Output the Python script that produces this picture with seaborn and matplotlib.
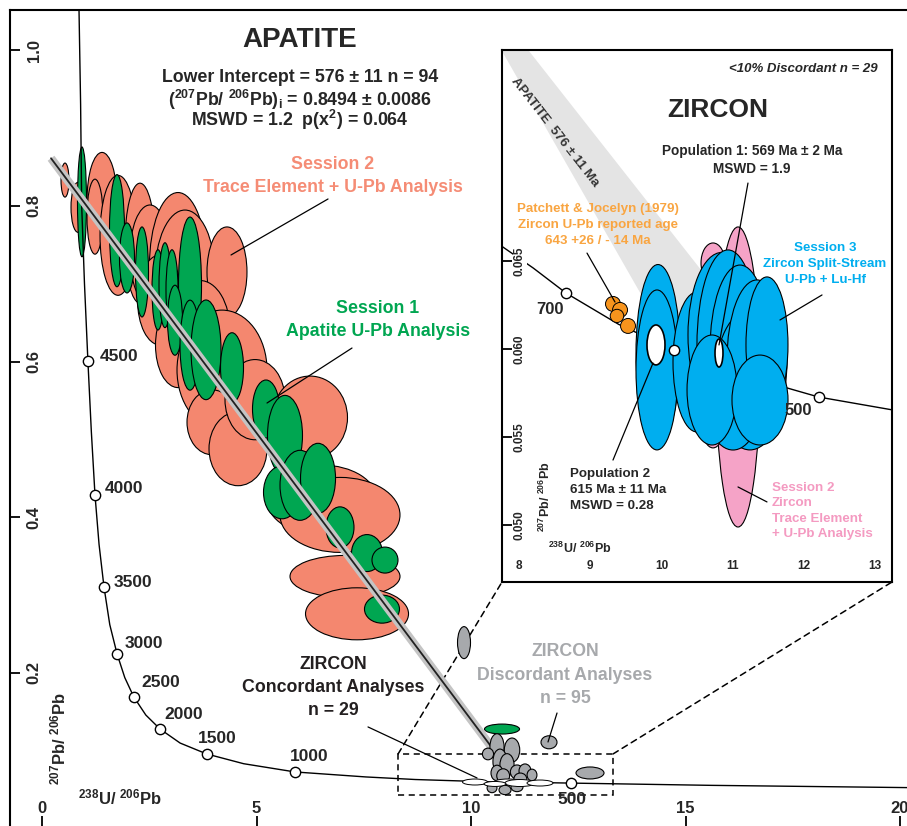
import numpy as np
import pandas as pd
import matplotlib.pyplot as plt
import seaborn as sns
import matplotlib.transforms as mtransforms
from matplotlib.patches import Ellipse, Rectangle, Polygon, ConnectionPatch

sns.set_theme(style="white")
plt.rcParams['font.family'] = ['Liberation Sans', 'DejaVu Sans']
plt.rcParams['font.weight'] = 'bold'
plt.rcParams['mathtext.fontset'] = 'custom'
plt.rcParams['mathtext.rm'] = 'Liberation Sans:bold'
plt.rcParams['mathtext.bf'] = 'Liberation Sans:bold'
plt.rcParams['mathtext.it'] = 'Liberation Sans:bold:italic'
plt.rcParams['mathtext.default'] = 'bf'

# ---- main panel data (238U/206Pb vs 207Pb/206Pb) ----
conc_x = [0.86, 0.90, 0.925, 0.99, 1.07, 1.15, 1.235, 1.33, 1.445, 1.58, 1.75, 1.93, 2.14,
          2.42, 2.75, 3.22, 3.84, 4.70, 5.90, 7.55, 8.70, 10.25, 12.33, 15.6, 20.5]
conc_y = [1.06, 0.93, 0.80, 0.70, 0.6006, 0.51, 0.4287, 0.365, 0.3104, 0.262, 0.2244, 0.194, 0.1692,
          0.146, 0.1281, 0.110, 0.0960, 0.0835, 0.0729, 0.0665, 0.0632, 0.0605, 0.0586, 0.0557, 0.0526]
age_labels = ['4500', '4000', '3500', '3000', '2500', '2000', '1500', '1000', '500']
age_x = [1.07, 1.235, 1.445, 1.75, 2.14, 2.75, 3.84, 5.90, 12.33]
age_y = [0.6006, 0.4287, 0.3104, 0.2244, 0.1692, 0.1281, 0.0960, 0.0729, 0.0586]

# apatite session 2 (trace element + U-Pb) ellipses: centre x, centre y, width, height
s2_x = [0.536, 0.839, 1.399, 1.235, 1.772, 2.284, 2.517, 3.170, 3.333, 4.312, 2.751, 3.683,
        3.170, 4.196, 3.963, 4.569, 4.965, 6.247, 6.527, 6.946, 7.063, 7.343]
s2_y = [0.833, 0.798, 0.807, 0.786, 0.762, 0.752, 0.737, 0.724, 0.711, 0.715, 0.679, 0.640,
        0.621, 0.589, 0.522, 0.488, 0.551, 0.528, 0.422, 0.403, 0.324, 0.276]
s2_w = [0.186, 0.326, 0.699, 0.373, 0.839, 0.699, 0.932, 1.329, 1.399, 0.932, 1.049, 1.399,
        1.049, 2.098, 1.166, 1.352, 1.399, 1.748, 2.564, 2.797, 2.564, 2.401]
s2_h = [0.0437, 0.0642, 0.123, 0.0963, 0.154, 0.154, 0.128, 0.186, 0.167, 0.1156, 0.1156, 0.128,
        0.109, 0.154, 0.0835, 0.095, 0.103, 0.1066, 0.0899, 0.0963, 0.0539, 0.0668]

# apatite session 1 (U-Pb) ellipses
s1_x = [0.932, 1.748, 1.981, 2.331, 2.704, 2.867, 3.030, 3.450, 3.100, 3.450, 3.823, 4.429,
        5.221, 5.664, 5.594, 6.014, 6.434, 6.946, 7.576, 7.995, 7.925, 10.723]
s1_y = [0.805, 0.768, 0.733, 0.715, 0.692, 0.698, 0.692, 0.698, 0.653, 0.621, 0.615, 0.592,
        0.539, 0.505, 0.432, 0.441, 0.450, 0.387, 0.354, 0.345, 0.282, 0.128]
s1_w = [0.210, 0.350, 0.350, 0.303, 0.280, 0.280, 0.280, 0.536, 0.350, 0.466, 0.699, 0.536,
        0.629, 0.816, 0.862, 0.932, 0.816, 0.653, 0.723, 0.606, 0.816, 0.816]
s1_h = [0.141, 0.144, 0.0899, 0.1156, 0.103, 0.109, 0.103, 0.175, 0.0899, 0.1156, 0.128, 0.0899,
        0.0745, 0.103, 0.068, 0.0899, 0.0899, 0.0527, 0.0475, 0.0334, 0.036, 0.0128]

# zircon discordant analyses (grey)
zd_x = [9.837, 11.818, 12.774, 10.606, 10.956, 10.396, 10.676, 10.839, 11.072, 11.259, 11.422,
        10.606, 10.490, 10.793, 11.072, 10.75, 11.15]
zd_y = [0.239, 0.111, 0.0716, 0.105, 0.101, 0.096, 0.0863, 0.0819, 0.0729, 0.0742, 0.0690,
        0.0716, 0.0523, 0.0498, 0.0536, 0.0680, 0.0640]
zd_w = [0.303, 0.373, 0.653, 0.330, 0.360, 0.260, 0.330, 0.330, 0.310, 0.280, 0.230,
        0.280, 0.230, 0.280, 0.280, 0.300, 0.300]
zd_h = [0.0411, 0.0167, 0.0154, 0.0340, 0.0310, 0.0150, 0.0320, 0.0290, 0.0180, 0.0180, 0.0150,
        0.0200, 0.0120, 0.0120, 0.0120, 0.0180, 0.0150]

# zircon concordant analyses (white)
zc_x = [10.093, 10.862, 11.142, 11.608, 10.559]
zc_y = [0.0600, 0.0600, 0.0587, 0.0587, 0.0575]
zc_w = [0.583, 0.653, 0.699, 0.606, 0.513]
zc_h = [0.0077, 0.0077, 0.0090, 0.0077, 0.0064]

reg_x = [0.21, 10.49]
reg_y = [0.861, 0.104]
zoom_box_x = [8.30, 13.31]
zoom_box_y = [0.0433, 0.096]
main_xticks = [0, 5, 10, 15, 20]
main_yticks = [0.2, 0.4, 0.6, 0.8, 1.0]

# ---- inset (zircon) data ----
in_conc_x = [7.70, 8.20, 8.66, 9.40, 10.18, 11.15, 12.21, 13.30]
in_conc_y = [0.0660, 0.0646, 0.06318, 0.0614, 0.05994, 0.0585, 0.05727, 0.0565]
in_age_x = [8.66, 10.18, 12.21]
in_age_y = [0.06318, 0.05994, 0.05727]
# apatite intercept envelope drawn across the inset
band_x = [7.68, 8.03, 11.22, 10.00]
band_y = [0.0775, 0.0775, 0.06108, 0.06108]

blue_x = [9.952, 9.938, 10.500, 10.851, 10.935, 11.104, 11.244, 11.006, 11.343, 11.483, 10.711, 11.385]
blue_y = [0.05977, 0.05881, 0.05926, 0.06080, 0.06023, 0.05994, 0.05824, 0.05710, 0.05938, 0.06023, 0.05767, 0.05710]
blue_w = [0.618, 0.590, 0.674, 0.955, 0.871, 0.843, 0.983, 0.787, 0.843, 0.590, 0.702, 0.787]
blue_h = [0.01006, 0.00909, 0.00795, 0.00938, 0.01080, 0.00966, 0.00795, 0.00568, 0.00909, 0.00773, 0.00625, 0.00511]

pink_x = [11.076, 10.725, 10.542, 10.725]
pink_y = [0.05841, 0.06489, 0.05625, 0.05563]
pink_w = [0.618, 0.337, 0.281, 0.309]
pink_h = [0.01705, 0.00227, 0.00205, 0.00250]

orange_x = [9.320, 9.419, 9.376, 9.531]
orange_y = [0.06256, 0.06222, 0.06188, 0.06131]
orange_w = [0.210, 0.210, 0.190, 0.210]
orange_h = [0.00085, 0.00085, 0.00075, 0.00085]

mean_x = [9.924, 10.809]
mean_y = [0.06023, 0.05977]
mean_w = [0.253, 0.112]
mean_h = [0.00227, 0.00159]

in_xticks = [8, 9, 10, 11, 12, 13]
in_yticks = [0.050, 0.055, 0.060, 0.065]

SALMON = '#F4876F'
GREEN = '#00A651'
GREY = '#A7A9AC'
BLUE = '#00AEEF'
PINK = '#F5A3C7'
ORANGE = '#F7941D'


def draw_ellipses(ax, xs, ys, ws, hs, color, z, lw=0.8):
    for x, y, w, h in zip(xs, ys, ws, hs):
        ax.add_patch(Ellipse((x, y), w, h, facecolor=color, edgecolor='black', lw=lw, zorder=z))


fig = plt.figure(figsize=(9.07, 8.26), dpi=100)
ax = fig.add_axes([10 / 907, 0, 900 / 907, 816 / 826])
ax.set_xlim(-0.746, 20.233)
ax.set_ylim(0.0035, 1.0514)
for s in ['left', 'top']:
    ax.spines[s].set_color('black')
    ax.spines[s].set_linewidth(1.5)
ax.spines['bottom'].set_visible(False)
ax.spines['right'].set_visible(False)
ax.set_xticks(main_xticks)
ax.set_yticks(main_yticks)
ax.tick_params(axis='both', direction='in', length=7, width=1.3, color='black',
               labelbottom=False, labelleft=False, bottom=True, left=True)
ax.grid(False)

ytr = mtransforms.blended_transform_factory(ax.transAxes, ax.transData)
xtr = mtransforms.blended_transform_factory(ax.transData, ax.transAxes)
for v in main_yticks:
    ax.text(0.0267, v, f'{v:.1f}', transform=ytr, rotation=90, ha='center', va='center', fontsize=12)
for v in main_xticks:
    ax.text(v, 0.022, str(v), transform=xtr, ha='center', va='center', fontsize=12)

draw_ellipses(ax, s2_x, s2_y, s2_w, s2_h, SALMON, 2)
draw_ellipses(ax, s1_x, s1_y, s1_w, s1_h, GREEN, 3)

sns.lineplot(x=conc_x, y=conc_y, sort=False, color='black', lw=1.0, ax=ax, zorder=4)
ax.plot(reg_x, reg_y, color='#C4C4C4', lw=6, solid_capstyle='butt', zorder=5)
ax.plot(reg_x, reg_y, color='#222222', lw=1.3, zorder=6)

draw_ellipses(ax, zd_x, zd_y, zd_w, zd_h, GREY, 7)
draw_ellipses(ax, zc_x, zc_y, zc_w, zc_h, 'white', 8, lw=0.7)

sns.scatterplot(x=age_x, y=age_y, s=55, color='white', edgecolor='black', linewidth=1.0, ax=ax, zorder=9)
age_off = [(12, 5), (10, 6), (10, 5), (8, 10), (8, 14), (4, 14), (-9, 15), (-5, 15), (1, -16)]
for lab, x, y, (dx, dy) in zip(age_labels, age_x, age_y, age_off):
    ax.annotate(lab, (x, y), xytext=(dx * 0.72, dy * 0.72), textcoords='offset points',
                ha='center' if lab == '500' else 'left', va='center', fontsize=12.5, zorder=10)

ax.add_patch(Rectangle((zoom_box_x[0], zoom_box_y[0]), zoom_box_x[1] - zoom_box_x[0],
                       zoom_box_y[1] - zoom_box_y[0], fill=False, ls=(0, (4, 3)), lw=1.1,
                       ec='black', zorder=3))

# text
ax.text(6.014, 1.0125, 'APATITE', ha='center', va='center', fontsize=20)
ax.text(6.014, 0.9653, 'Lower Intercept = 576 ± 11 n = 94', ha='center', va='center', fontsize=12.8)
ax.text(6.014, 0.9358, '($^{207}$Pb/ $^{206}$Pb)$_i$ = 0.8494 ± 0.0086', ha='center', va='center', fontsize=12.8)
ax.text(6.014, 0.9101, 'MSWD = 1.2  p(x$^2$) = 0.064', ha='center', va='center', fontsize=12.8)
ax.text(6.783, 0.838, 'Session 2\nTrace Element + U-Pb Analysis', color='#F58C75',
        ha='center', va='center', fontsize=12.8, linespacing=1.5, zorder=12)
ax.text(7.832, 0.6533, 'Session 1\nApatite U-Pb Analysis', color=GREEN,
        ha='center', va='center', fontsize=12.8, linespacing=1.5, zorder=12)
ax.text(6.783, 0.181, 'ZIRCON\nConcordant Analyses\nn = 29', color='#231F20',
        ha='center', va='center', fontsize=12.8, linespacing=1.45, zorder=12)
ax.text(12.191, 0.1974, 'ZIRCON\nDiscordant Analyses\nn = 95', color=GREY,
        ha='center', va='center', fontsize=12.8, linespacing=1.5, zorder=12)
ax.text(0.373, 0.1161, '$^{207}$Pb/ $^{206}$Pb', rotation=90, ha='center', va='center', fontsize=12)
ax.text(1.818, 0.0407, '$^{238}$U/ $^{206}$Pb', ha='center', va='center', fontsize=12)

pointers = [([6.667, 4.406], [0.8087, 0.7368]), ([7.226, 5.245], [0.6173, 0.5467]),
            ([7.599, 10.140], [0.1307, 0.0652]), ([12.005, 11.795], [0.1486, 0.1114])]
for px, py in pointers:
    ax.plot(px, py, color='black', lw=0.9, zorder=11)

# ---- inset ----
axi = fig.add_axes([502 / 907, (826 - 582) / 826, 390 / 907, 532 / 826])
axi.set_facecolor('white')
axi.set_xlim(7.761, 13.239)
axi.set_ylim(0.04676, 0.07699)
for s in axi.spines.values():
    s.set_color('black')
    s.set_linewidth(1.5)
    s.set_visible(True)
axi.set_xticks(in_xticks)
axi.set_yticks(in_yticks)
axi.tick_params(axis='y', direction='in', length=7, width=1.3, color='black', left=True, labelleft=False)
axi.tick_params(axis='x', length=0, labelbottom=False)
axi.grid(False)
iytr = mtransforms.blended_transform_factory(axi.transAxes, axi.transData)
ixtr = mtransforms.blended_transform_factory(axi.transData, axi.transAxes)
for v in in_yticks:
    axi.text(0.046, v, f'{v:.3f}', transform=iytr, rotation=90, ha='center', va='center', fontsize=8.5,
             bbox=dict(fc='white', ec='none', pad=0.5), zorder=8)
for v in in_xticks:
    axi.text(v, 0.030, str(v), transform=ixtr, ha='center', va='center', fontsize=8.5)

axi.add_patch(Polygon(list(zip(band_x, band_y)), closed=True, fc='#E4E4E4', ec='none', zorder=1))
axi.text(8.506, 0.07233, 'APATITE  576 ± 11 Ma', rotation=-52, ha='center', va='center',
         fontsize=9.5, color='#333333', zorder=2, rotation_mode='anchor')
sns.lineplot(x=in_conc_x, y=in_conc_y, sort=False, color='black', lw=1.0, ax=axi, zorder=2)
draw_ellipses(axi, orange_x, orange_y, orange_w, orange_h, ORANGE, 3, lw=0.7)
draw_ellipses(axi, pink_x, pink_y, pink_w, pink_h, PINK, 3)
draw_ellipses(axi, blue_x, blue_y, blue_w, blue_h, BLUE, 4)
draw_ellipses(axi, mean_x, mean_y, mean_w, mean_h, 'white', 5, lw=1.2)
sns.scatterplot(x=in_age_x, y=in_age_y, s=55, color='white', edgecolor='black', linewidth=1.0,
                ax=axi, zorder=6)

axi.text(11.989, 0.07591, '<10% Discordant n = 29', style='italic', ha='center', va='center', fontsize=9.5)
axi.text(10.795, 0.07358, 'ZIRCON', ha='center', va='center', fontsize=19)
axi.text(11.272, 0.07074, 'Population 1: 569 Ma ± 2 Ma\nMSWD = 1.9', ha='center', va='center',
         fontsize=9.8, linespacing=1.3, zorder=10)
axi.text(9.110, 0.06705, 'Patchett & Jocelyn (1979)\nZircon U-Pb reported age\n643 +26 / - 14 Ma',
         color='#F9A541', ha='center', va='center', fontsize=9.6, linespacing=1.45, zorder=10)
axi.text(12.298, 0.06483, 'Session 3\nZircon Split-Stream\nU-Pb + Lu-Hf', color=BLUE,
         ha='center', va='center', fontsize=9.6, linespacing=1.4, zorder=10)
axi.text(8.716, 0.05199, 'Population 2\n615 Ma ± 11 Ma\nMSWD = 0.28', ha='left', va='center',
         fontsize=9.6, linespacing=1.45, zorder=10)
axi.text(11.553, 0.05080, 'Session 2\nZircon\nTrace Element\n+ U-Pb Analysis', color='#F49AC1',
         ha='left', va='center', fontsize=9.6, linespacing=1.4, zorder=10)
axi.text(8.435, 0.06222, '700', ha='center', va='center', fontsize=12, zorder=10)
axi.text(11.919, 0.05648, '500', ha='center', va='center', fontsize=12, zorder=10)
axi.text(8.365, 0.05159, '$^{207}$Pb/ $^{206}$Pb', rotation=90, ha='center', va='center', fontsize=9)
axi.text(8.857, 0.04869, '$^{238}$U/ $^{206}$Pb', ha='center', va='center', fontsize=9)

in_pointers = [([11.216, 10.809], [0.06943, 0.06023]), ([8.955, 9.348], [0.06545, 0.06267]),
               ([12.256, 11.666], [0.06307, 0.06165]), ([9.320, 9.882], [0.05369, 0.05920]),
               ([11.483, 11.076], [0.05131, 0.05216])]
for px, py in in_pointers:
    axi.plot(px, py, color='black', lw=0.9, zorder=7)

# dashed connectors from zoom box to inset
for bx, cx in [(zoom_box_x[0], 0), (zoom_box_x[1], 1)]:
    con = ConnectionPatch(xyA=(bx, zoom_box_y[1]), coordsA=ax.transData,
                          xyB=(cx, 0), coordsB=axi.transAxes, ls=(0, (4, 3)), lw=1.1, color='black')
    ax.add_artist(con)

fig.savefig('out.png', dpi=100)
